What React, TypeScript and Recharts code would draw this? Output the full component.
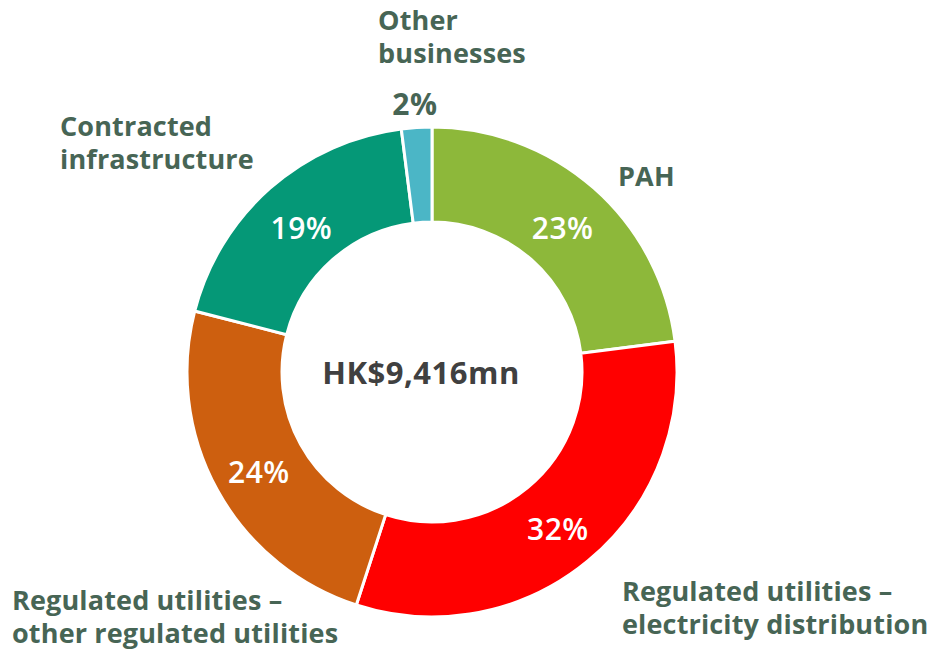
import { PieChart, Pie, Cell } from 'recharts';

// Segment data (clockwise from 12 o'clock)
const segments = ['PAH', 'Regulated utilities – electricity distribution', 'Regulated utilities – other regulated utilities', 'Contracted infrastructure', 'Other businesses'];
const shares = [23, 32, 24, 19, 2];
const colors = ['#8DB83A', '#FF0000', '#CD5F0F', '#059877', '#4BB6C6'];
const totalLabel = 'HK$9,416mn';

// Category titles, one entry per line
const titleLines = [['PAH'], ['Regulated utilities –', 'electricity distribution'], ['Regulated utilities –', 'other regulated utilities'], ['Contracted', 'infrastructure'], ['Other', 'businesses']];

const W = 933;
const H = 650;
const CX = 432;
const CY = 372;
const INNER = 150;
const OUTER = 245;
const FONT = '"Open Sans", "Noto Sans", sans-serif';
const LABEL_GREEN = '#476555';
const LINE_GAP = 33;

// where each category title starts (left edge, middle of first line)
const titlePos = [
    { x: 618, y: 175 },
    { x: 622, y: 590 },
    { x: 12, y: 599 },
    { x: 60, y: 125 },
    { x: 378, y: 19 },
];

const data = segments.map((name, i) => ({ name, value: shares[i] }));

const RAD = Math.PI / 180;

function renderPct(props: any) {
    const { cx, cy, midAngle, innerRadius, outerRadius, index, value } = props;
    const small = value < 5;
    const r = small ? outerRadius + 28 : (innerRadius + outerRadius) / 2;
    const x = cx + r * Math.cos(-midAngle * RAD);
    const y = cy + r * Math.sin(-midAngle * RAD) + 4;
    return (
        <text
            key={`pct-${index}`}
            x={x}
            y={y}
            textAnchor="middle"
            dominantBaseline="central"
            fill={small ? LABEL_GREEN : '#ffffff'}
            style={{ fontFamily: FONT, fontSize: 30, fontWeight: small ? 700 : 600, letterSpacing: 0.5 }}
        >
            {`${value}%`}
        </text>
    );
}

export default function App() {
    return (
        <div style={{ position: 'absolute', left: 0, top: 0, width: W, height: H, background: '#fff' }}>
            <PieChart width={W} height={H} margin={{ top: 0, right: 0, bottom: 0, left: 0 }}>
                <Pie
                    data={data}
                    dataKey="value"
                    cx={CX}
                    cy={CY}
                    innerRadius={INNER}
                    outerRadius={OUTER}
                    startAngle={90}
                    endAngle={-270}
                    stroke="#ffffff"
                    strokeWidth={3}
                    label={renderPct}
                    labelLine={false}
                    isAnimationActive={false}
                >
                    {data.map((d, i) => (
                        <Cell key={d.name} fill={colors[i]} />
                    ))}
                </Pie>
                <text
                    x={CX - 11}
                    y={CY}
                    textAnchor="middle"
                    dominantBaseline="central"
                    fill="#404040"
                    style={{ fontFamily: FONT, fontSize: 31, fontWeight: 700, letterSpacing: 0.5 }}
                >
                    {totalLabel}
                </text>
                {titleLines.map((lines, i) =>
                    lines.map((ln, j) => (
                        <text
                            key={`title-${i}-${j}`}
                            x={titlePos[i].x}
                            y={titlePos[i].y + j * LINE_GAP}
                            fill={LABEL_GREEN}
                            dominantBaseline="central"
                            style={{ fontFamily: FONT, fontSize: 27, fontWeight: 700, letterSpacing: 0.15 }}
                        >
                            {ln}
                        </text>
                    ))
                )}
            </PieChart>
        </div>
    );
}
